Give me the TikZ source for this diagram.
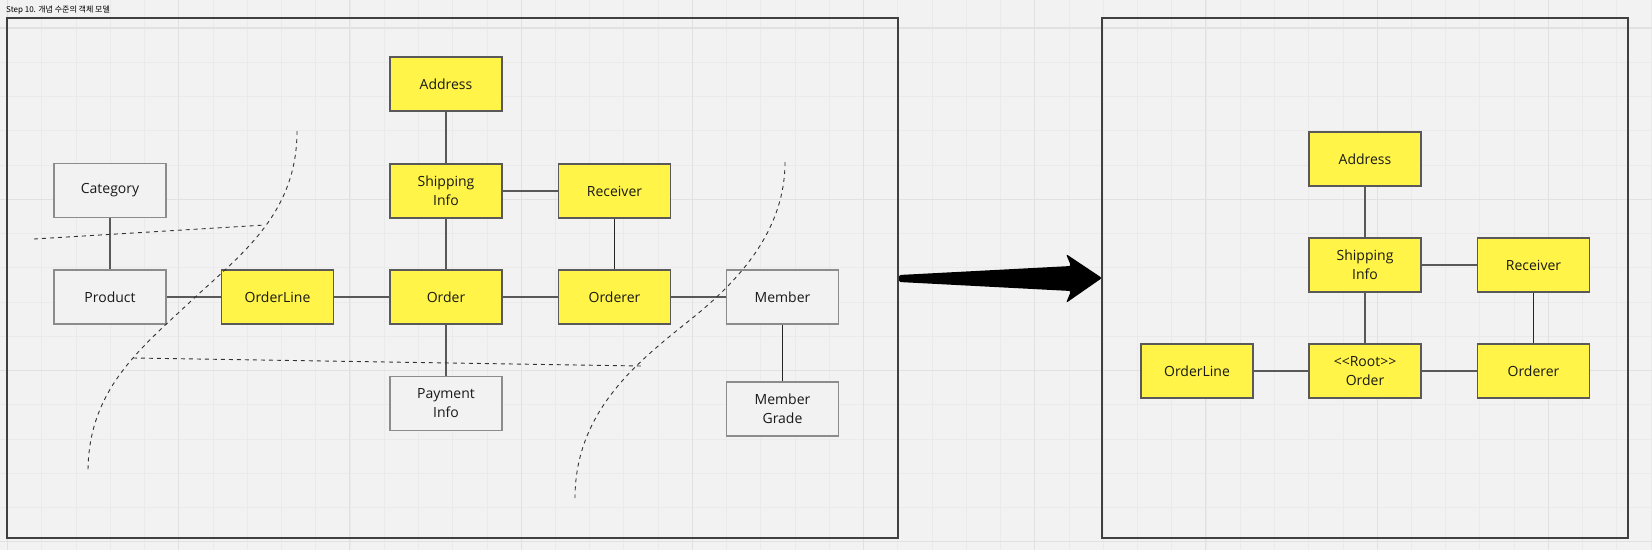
\documentclass[tikz,border=0pt]{standalone}
\usepackage{fontspec}
\setmainfont{Open Sans}
\newfontfamily\krfont{Noto Sans CJK KR}
\usetikzlibrary{arrows}

\definecolor{bggray}{HTML}{F2F2F2}
\definecolor{gridminor}{HTML}{EAEAEA}
\definecolor{gridmajor}{HTML}{E1E1E1}
\definecolor{entyellow}{HTML}{FFF447}

\begin{document}
\begin{tikzpicture}[x=1pt, y=-1pt,
  box/.style={minimum width=112pt, minimum height=54pt, inner sep=0pt, align=center,
    line width=1.3pt, font={\fontsize{14}{19}\selectfont}, text=black!90},
  core/.style={box, fill=entyellow, draw=black!65},
  plain/.style={box, fill=bggray, draw=black!45},
  link/.style={draw=black!65, line width=1.2pt},
  frame/.style={draw=black!75, line width=1.4pt},
  split/.style={draw=black!80, line width=0.9pt, dash pattern=on 4pt off 4pt},
]

\useasboundingbox (0,0) rectangle (1652,550);
\fill[bggray] (0,0) rectangle (1652,550);

% grid
\foreach \i in {0,...,48}
  \draw[gridminor, line width=0.7pt] ({7.5+34.24*\i},0) -- ++(0,550);
\foreach \j in {0,...,15}
  \draw[gridminor, line width=0.7pt] (0,{28+34.24*\j}) -- ++(1652,0);
\foreach \i in {0,...,9}
  \draw[gridmajor, line width=1.1pt] ({7.5+171.2*\i},0) -- ++(0,550);
\foreach \j in {0,...,3}
  \draw[gridmajor, line width=1.1pt] (0,{28+171.2*\j}) -- ++(1652,0);

\node[anchor=west, inner sep=0pt, font={\krfont\fontsize{8}{8}\selectfont}] (title) at (6,10) {Step 10. 개념 수준의 객체 모델};

\draw[frame] (7,18) rectangle (898,538);
\draw[frame] (1102,18) rectangle (1628,538);

% left: before
\node[plain] (category) at (110,190.5) {Category};
\node[plain] (product) at (110,297) {Product};
\node[core] (orderline) at (277.5,297) {OrderLine};
\node[core] (order) at (446,297) {Order};
\node[core] (address) at (446,84) {Address};
\node[core] (shipping) at (446,191) {Shipping\\Info};
\node[core] (receiver) at (614.5,191) {Receiver};
\node[core] (orderer) at (614.5,297) {Orderer};
\node[plain] (member) at (782.5,297) {Member};
\node[plain] (grade) at (782.5,409) {Member\\Grade};
\node[plain] (payment) at (446,403.5) {Payment\\Info};

\draw[link] (category) -- (product);
\draw[link] (product) -- (orderline);
\draw[link] (orderline) -- (order);
\draw[link] (order) -- (orderer);
\draw[link] (orderer) -- (member);
\draw[link] (address) -- (shipping);
\draw[link] (shipping) -- (order);
\draw[link] (order) -- (payment);
\draw[link] (shipping) -- (receiver);
\draw[link, draw=black!85] (receiver) -- (orderer);
\draw[link, draw=black!85] (member) -- (grade);

\draw[split] (297,131) .. controls (297,215) and (240,255) .. (190,302)
  .. controls (140,349) and (88,390) .. (88,472);
\draw[split] (785,162) .. controls (785,230) and (740,280) .. (690,320)
  .. controls (640,360) and (575,410) .. (575,498);
\draw[split] (34,239) -- (265,225);
\draw[split] (133,358) -- (642,366);

\fill[black, rounded corners=2pt] (899,275) -- (1071,266) -- (1066,254) -- (1102,278)
  -- (1066,303) -- (1071,291) -- (899,282) -- cycle;

% right: aggregate
\node[core] (raddress) at (1365,159) {Address};
\node[core] (rshipping) at (1365,265) {Shipping\\Info};
\node[core] (rreceiver) at (1533.5,265) {Receiver};
\node[core] (rorderline) at (1197,371) {OrderLine};
\node[core] (rorder) at (1365,371) {<{}<Root>{}>\\Order};
\node[core] (rorderer) at (1533.5,371) {Orderer};

\draw[link] (raddress) -- (rshipping);
\draw[link] (rshipping) -- (rreceiver);
\draw[link] (rshipping) -- (rorder);
\draw[link, draw=black!85] (rreceiver) -- (rorderer);
\draw[link] (rorderline) -- (rorder);
\draw[link] (rorder) -- (rorderer);

\end{tikzpicture}
\end{document}
